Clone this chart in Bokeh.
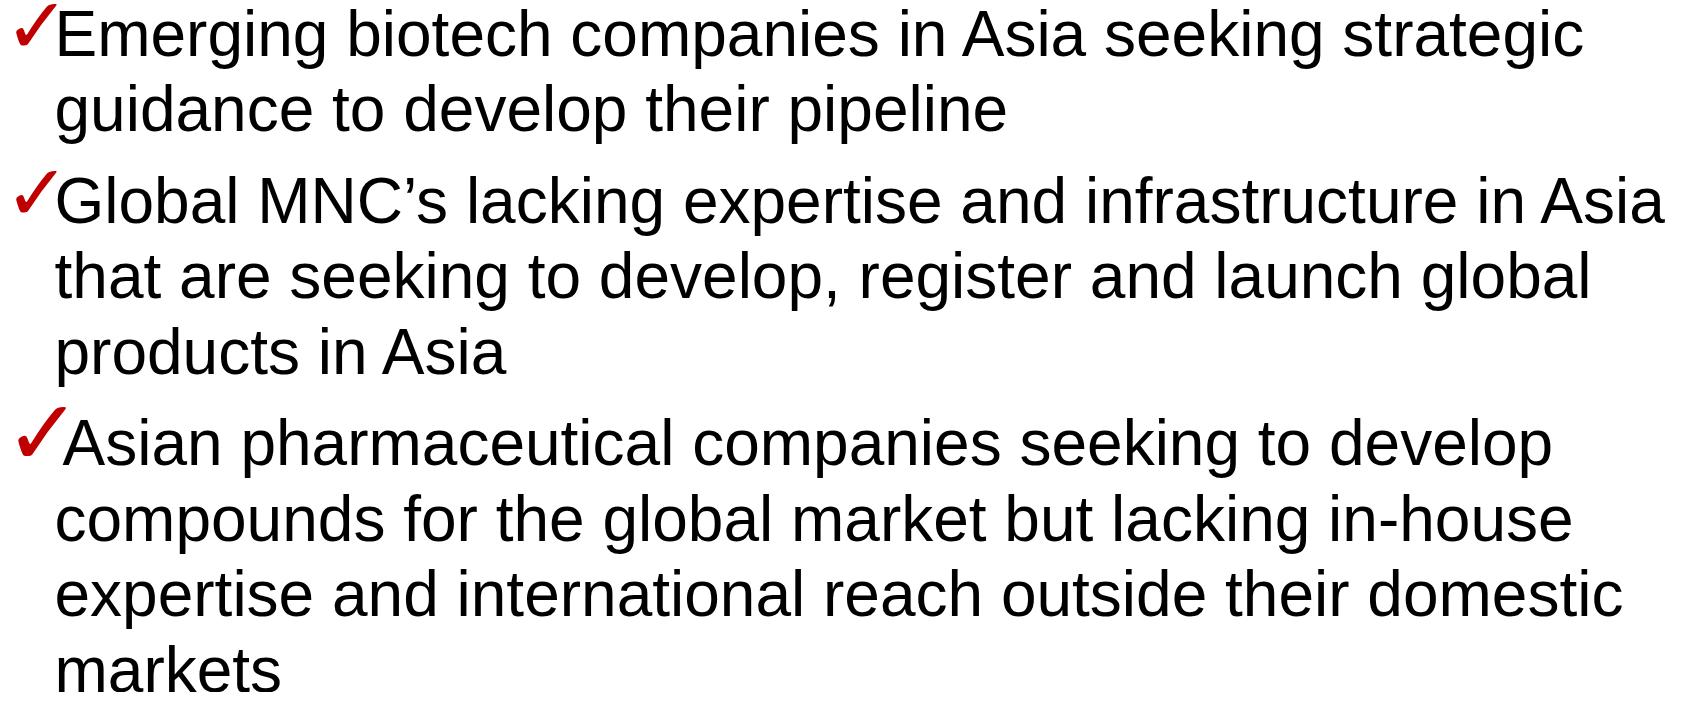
from bokeh.plotting import figure
from bokeh.models import Range1d, ColumnDataSource
from bokeh.embed import file_html
from bokeh.resources import INLINE
from bokeh.core.properties import value

# Content
bullet_lines = [
    ["Emerging biotech companies in Asia seeking strategic",
     "guidance to develop their pipeline"],
    ["Global MNC\u2019s lacking expertise and infrastructure in Asia",
     "that are seeking to develop, register and launch global",
     "products in Asia"],
    ["Asian pharmaceutical companies seeking to develop",
     "compounds for the global market but lacking in-house",
     "expertise and international reach outside their domestic",
     "markets"],
]
check_symbol = "\u2713"

# Layout
W, H = 1668, 692
line_step = 75.5
bullet_gap = 16
first_base = 33
text_x = 54
check_x = 4

xs, ys, txt = [], [], []
cx, cy, csize = [], [], []
y = first_base
for bi, lines in enumerate(bullet_lines):
    big = bi == len(bullet_lines) - 1
    cx.append(check_x)
    cy.append(y - (10 if big else 8))
    csize.append("92px" if big else "78px")
    for li, line in enumerate(lines):
        xs.append(text_x + (8 if (big and li == 0) else 0))
        ys.append(y)
        txt.append(line)
        y += line_step
    y += bullet_gap

p = figure(width=W, height=H, output_backend="svg", toolbar_location=None,
           x_range=Range1d(0, W), y_range=Range1d(H, 0), min_border=0,
           x_axis_location=None, y_axis_location=None)
p.grid.visible = False
p.outline_line_color = None
p.background_fill_color = "white"
p.border_fill_color = "white"

p.text(x="x", y="y", text="t", source=ColumnDataSource(dict(x=xs, y=ys, t=txt)),
       text_font=value("Liberation Sans"), text_font_size=value("64px"),
       text_color="#000000", text_baseline="alphabetic", text_align="left")

p.text(x="x", y="y", text="t", text_font_size="s",
       source=ColumnDataSource(dict(x=cx, y=cy, t=[check_symbol] * len(cx), s=csize)),
       text_font=value("DejaVu Sans"), text_font_style="bold",
       text_color="#C00000", text_baseline="alphabetic", text_align="left")

open("out.html", "w").write(file_html(p, INLINE))
